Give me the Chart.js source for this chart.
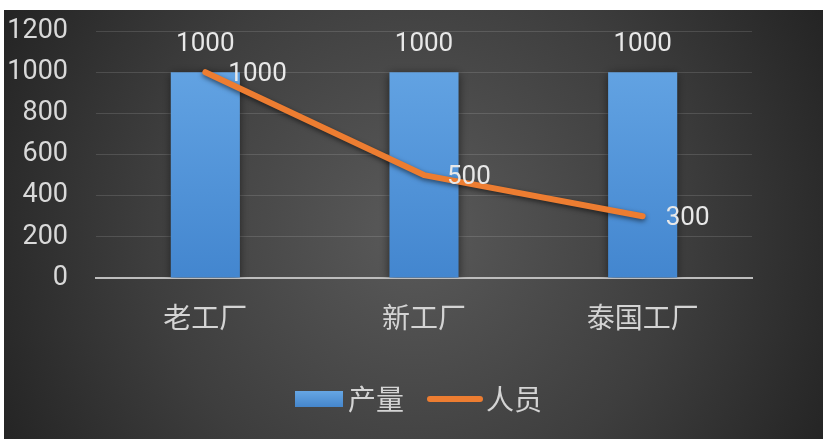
<!DOCTYPE html>
<html>
<head>
<meta charset="utf-8">
<script src="https://cdn.jsdelivr.net/npm/chart.js@4"></script>
<style>
html, body { margin:0; padding:0; background:#fff; }
#wrap { width:828px; height:442px; }
</style>
</head>
<body>
<div id="wrap"><canvas id="chart" width="828" height="442"></canvas></div>
<script>

// DATA

const factories = ["老工厂", "新工厂", "泰国工厂"];
const output = [1000, 1000, 1000];
const staff = [1000, 500, 300];
const yTicks = [0, 200, 400, 600, 800, 1000, 1200];

const numFont = "Roboto, 'Noto Sans', sans-serif";
const cjkFont = "'Noto Sans CJK SC', sans-serif";

// BACKGROUND

const bgPlugin = {
    id: "bg",
    beforeDraw(chart){
        const ctx = chart.ctx;
        ctx.save();
        ctx.fillStyle = "#ffffff";
        ctx.fillRect(0, 0, chart.width, chart.height);
        let g = ctx.createRadialGradient(414, 230, 0, 414, 230, 480);
        g.addColorStop(0, "#5a5a5a");
        g.addColorStop(0.55, "#3e3e3e");
        g.addColorStop(1, "#222222");
        ctx.fillStyle = g;
        ctx.fillRect(4, 10, 819, 429);
        ctx.restore();
    }
};

// SHADOWS

const shadowPlugin = {
    id: "shadow",
    beforeDatasetDraw(chart, args){
        const ctx = chart.ctx;
        ctx.save();
        ctx.shadowColor = "rgba(0,0,0,0.55)";
        ctx.shadowBlur = args.index === 0 ? 9 : 5;
        ctx.shadowOffsetX = 0;
        ctx.shadowOffsetY = 2;
    },
    afterDatasetDraw(chart){
        chart.ctx.restore();
    }
};

// LABELS + LEGEND

const labelPlugin = {
    id: "labels",
    afterDraw(chart){
        const ctx = chart.ctx;
        ctx.save();
        ctx.font = "26px " + numFont;
        ctx.fillStyle = "#e8e8e8";

        let bars = chart.getDatasetMeta(0).data;
        ctx.textAlign = "center";
        ctx.textBaseline = "middle";
        bars.forEach((b, i) => {
            ctx.fillText(String(output[i]), b.x, b.y - 28);
        });

        let pts = chart.getDatasetMeta(1).data;
        ctx.textAlign = "left";
        pts.forEach((p, i) => {
            ctx.fillText(String(staff[i]), p.x + 23, p.y + 2);
        });

        // legend
        const ds = chart.data.datasets;
        const y = 399;
        ctx.font = "28px " + cjkFont;
        ctx.textBaseline = "middle";

        let g = ctx.createLinearGradient(0, 391, 0, 407);
        g.addColorStop(0, "#66a6e4");
        g.addColorStop(1, "#4586cc");
        ctx.fillStyle = g;
        ctx.fillRect(295, 391, 48, 16);
        ctx.fillStyle = "#d4d4d4";
        ctx.fillText(ds[0].label, 348, y);

        ctx.strokeStyle = ds[1].borderColor;
        ctx.lineWidth = 6;
        ctx.lineCap = "round";
        ctx.beginPath();
        ctx.moveTo(430, y);
        ctx.lineTo(480, y);
        ctx.stroke();
        ctx.fillText(ds[1].label, 486, y);

        ctx.restore();
    }
};

function barGradient(context){
    const area = context.chart.chartArea;
    if(!area) return "#5b9bd5";
    let g = context.chart.ctx.createLinearGradient(0, area.top, 0, area.bottom);
    g.addColorStop(0, "#68a8e6");
    g.addColorStop(1, "#4386cf");
    return g;
}

new Chart(document.getElementById("chart"), {

    type: "bar",

    data: {
        labels: factories,
        datasets: [
            {
                type: "bar",
                label: "产量",
                data: output,
                backgroundColor: barGradient,
                barPercentage: 0.316,
                categoryPercentage: 1,
                order: 2
            },
            {
                type: "line",
                label: "人员",
                data: staff,
                borderColor: "#ed7d31",
                borderWidth: 6,
                borderCapStyle: "round",
                borderJoinStyle: "round",
                pointRadius: 0,
                tension: 0,
                order: 1
            }
        ]
    },

    options: {
        responsive: false,
        animation: false,
        devicePixelRatio: 1,
        layout: {
            autoPadding: false,
            padding: { left: 4, top: 31, right: 76, bottom: 3 }
        },
        plugins: {
            legend: { display: false },
            tooltip: { enabled: false }
        },
        scales: {
            x: {
                grid: { display: false },
                border: { color: "#bdbdbd", width: 2 },
                ticks: {
                    color: "#d4d4d4",
                    font: { family: cjkFont, size: 28 },
                    padding: 15
                },
                afterFit(axis){
                    axis.height = 161;
                    axis.paddingLeft = 0;
                    axis.paddingRight = 0;
                }
            },
            y: {
                min: 0,
                max: 1200,
                afterBuildTicks(axis){
                    axis.ticks = yTicks.map(v => ({ value: v }));
                },
                grid: { color: "rgba(255,255,255,0.13)", lineWidth: 1, drawTicks: false },
                border: { display: false },
                ticks: {
                    color: "#d9d9d9",
                    font: { family: numFont, size: 27 },
                    padding: 28,
                    callback: v => String(v)
                },
                afterFit(axis){
                    axis.width = 92;
                    axis.paddingTop = 0;
                    axis.paddingBottom = 0;
                }
            }
        }
    },

    plugins: [bgPlugin, shadowPlugin, labelPlugin]
});
</script>
</body>
</html>
